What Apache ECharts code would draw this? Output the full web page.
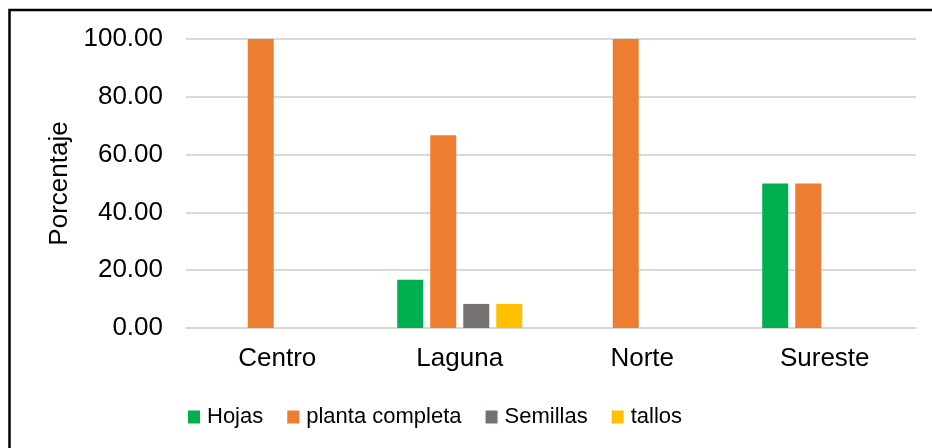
<!DOCTYPE html>
<html>
<head>
<meta charset="utf-8">
<script src="https://cdn.jsdelivr.net/npm/echarts@6/dist/echarts.min.js"></script>
<style>
  html, body { margin: 0; padding: 0; background: #fff; }
  #chart { width: 932px; height: 448px; }
</style>
</head>
<body>
<div id="chart"></div>
<script>
// Regions along the horizontal axis
var regions = ['Centro', 'Laguna', 'Norte', 'Sureste'];

// Percentage of each plant part used, per region
var hojas = [0, 16.67, 0, 50];
var plantaCompleta = [100, 66.67, 100, 50];
var semillas = [0, 8.33, 0, 0];
var tallos = [0, 8.33, 0, 0];

var seriesNames = ['Hojas', 'planta completa', 'Semillas', 'tallos'];
var seriesColors = ['#00B050', '#ED7D31', '#767171', '#FFC000'];
var seriesData = [hojas, plantaCompleta, semillas, tallos];

var FONT = '"Liberation Sans", Arial, sans-serif';

var chart = echarts.init(document.getElementById('chart'), null, { renderer: 'canvas' });

var series = seriesNames.map(function (name, i) {
  return {
    name: name,
    type: 'bar',
    data: seriesData[i],
    barWidth: 26,
    barGap: '27%',
    itemStyle: { color: seriesColors[i] }
  };
});

chart.setOption({
  animation: false,
  backgroundColor: '#ffffff',
  textStyle: { fontFamily: FONT, color: '#000' },
  grid: { left: 186, right: 16, top: 39, bottom: 120, containLabel: false },
  legend: {
    data: seriesNames,
    left: 183,
    top: 401,
    icon: 'rect',
    itemWidth: 12,
    itemHeight: 13,
    itemGap: 24,
    textStyle: { fontFamily: FONT, fontSize: 22, color: '#000', padding: [0, 0, 0, 2] }
  },
  xAxis: {
    type: 'category',
    data: regions,
    axisLine: { show: true, lineStyle: { color: '#D9D9D9', width: 2 } },
    axisTick: { show: false },
    axisLabel: { fontFamily: FONT, fontSize: 26, color: '#000', margin: 18 }
  },
  yAxis: {
    type: 'value',
    min: 0,
    max: 100,
    interval: 20,
    name: 'Porcentaje',
    nameLocation: 'middle',
    nameGap: 112,
    nameTextStyle: { fontFamily: FONT, fontSize: 26, color: '#000' },
    axisLine: { show: false },
    axisTick: { show: false },
    splitLine: { lineStyle: { color: '#D9D9D9', width: 2 } },
    axisLabel: {
      fontFamily: FONT, fontSize: 26, color: '#000', margin: 23,
      formatter: function (v) { return v.toFixed(2); }
    }
  },
  graphic: [{
    type: 'rect',
    silent: true,
    z: 100,
    shape: { x: 9.5, y: 10, width: 1000, height: 1000 },
    style: { fill: 'none', stroke: '#000', lineWidth: 2.5 }
  }],
  series: series
});
</script>
</body>
</html>
